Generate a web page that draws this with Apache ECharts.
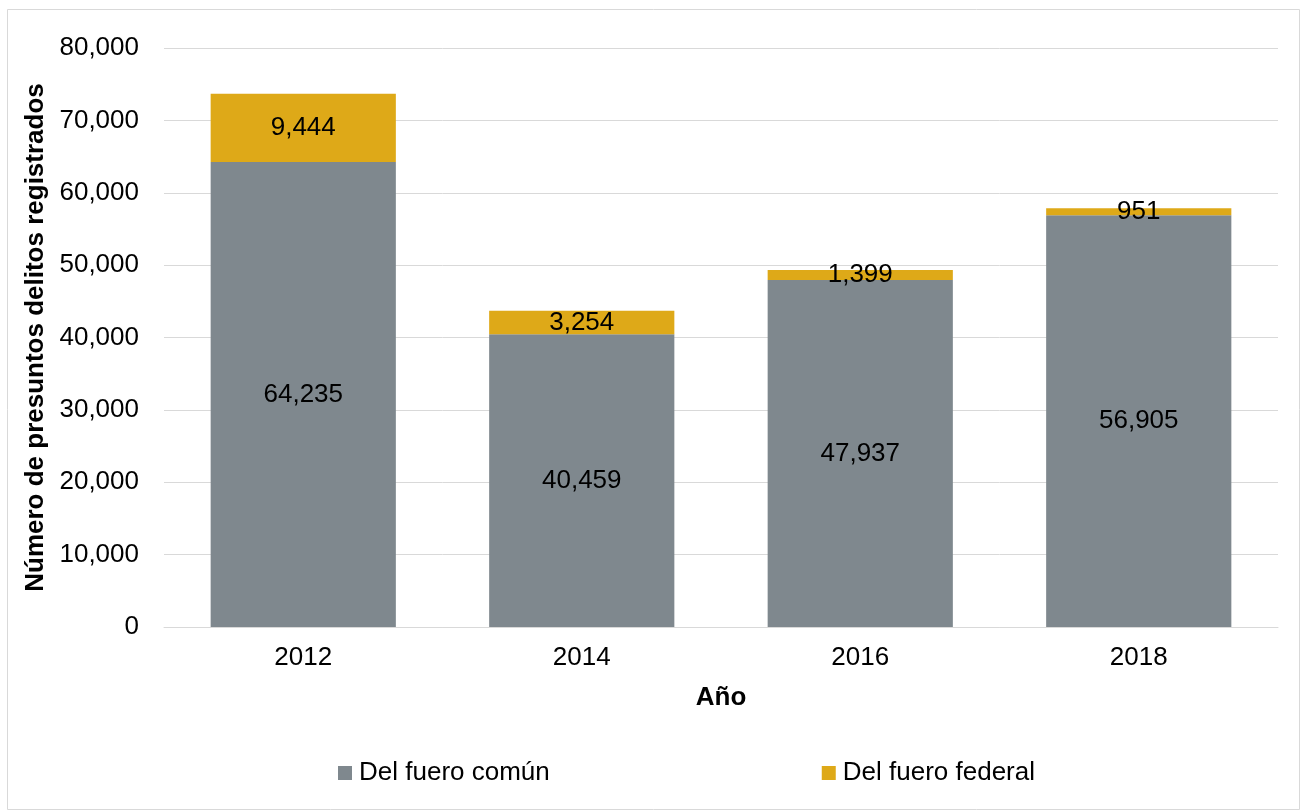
<!DOCTYPE html>
<html>
<head>
<meta charset="utf-8">
<script src="https://cdn.jsdelivr.net/npm/echarts@6/dist/echarts.min.js"></script>
<style>
html,body{margin:0;padding:0;background:#fff;}
#c{width:1302px;height:812px;}
</style>
</head>
<body>
<div id="c"></div>
<script>
const categories = ['2012', '2014', '2016', '2018'];
const comun = [64235, 40459, 47937, 56905];
const federal = [9444, 3254, 1399, 951];
const seriesNames = ['Del fuero común', 'Del fuero federal'];

const fmt = v => v.toLocaleString('en-US');
const chart = echarts.init(document.getElementById('c'), null, {renderer: 'canvas'});
const font = 'Liberation Sans, Arial, sans-serif';
const FS = 26;
chart.setOption({
  backgroundColor: '#fff',
  animation: false,
  textStyle: {fontFamily: font},
  graphic: [{
    type: 'rect', shape: {x: 7.5, y: 9.5, width: 1292, height: 800},
    style: {fill: 'none', stroke: '#d9d9d9', lineWidth: 1}, silent: true, z: -1
  }],
  grid: {left: 164, right: 24, top: 48, bottom: 185},
  legend: {
    top: 755, left: 333, itemGap: 272, itemWidth: 14, itemHeight: 14,
    icon: 'rect',
    textStyle: {fontSize: FS, color: '#000', fontFamily: font, padding: [0, 0, 0, 2]},
    data: seriesNames
  },
  xAxis: {
    type: 'category', data: categories,
    name: 'Año', nameLocation: 'middle', nameGap: 58,
    nameTextStyle: {fontSize: FS, fontWeight: 'bold', color: '#000', fontFamily: font},
    axisLine: {lineStyle: {color: '#d9d9d9', width: 1}},
    axisTick: {show: false},
    axisLabel: {fontSize: FS, color: '#000', margin: 18, fontFamily: font}
  },
  yAxis: {
    type: 'value', min: 0, max: 80000, interval: 10000,
    name: 'Número de presuntos delitos registrados', nameLocation: 'middle', nameGap: 112,
    nameTextStyle: {fontSize: FS, fontWeight: 'bold', color: '#000', fontFamily: font},
    axisLine: {show: false}, axisTick: {show: false},
    axisLabel: {fontSize: FS, color: '#000', margin: 25, formatter: v => fmt(v), fontFamily: font},
    splitLine: {lineStyle: {color: '#d9d9d9', width: 1}}
  },
  series: [
    {
      name: seriesNames[0], type: 'bar', stack: 'a', data: comun, barWidth: '66.5%',
      itemStyle: {color: '#7f888e'},
      label: {show: true, position: 'inside', fontSize: FS, color: '#000', fontFamily: font, formatter: p => fmt(p.value)}
    },
    {
      name: seriesNames[1], type: 'bar', stack: 'a', data: federal, barWidth: '66.5%',
      itemStyle: {color: '#dea918'},
      label: {show: true, position: 'inside', fontSize: FS, color: '#000', fontFamily: font, formatter: p => fmt(p.value)}
    }
  ]
});
</script>
</body>
</html>
